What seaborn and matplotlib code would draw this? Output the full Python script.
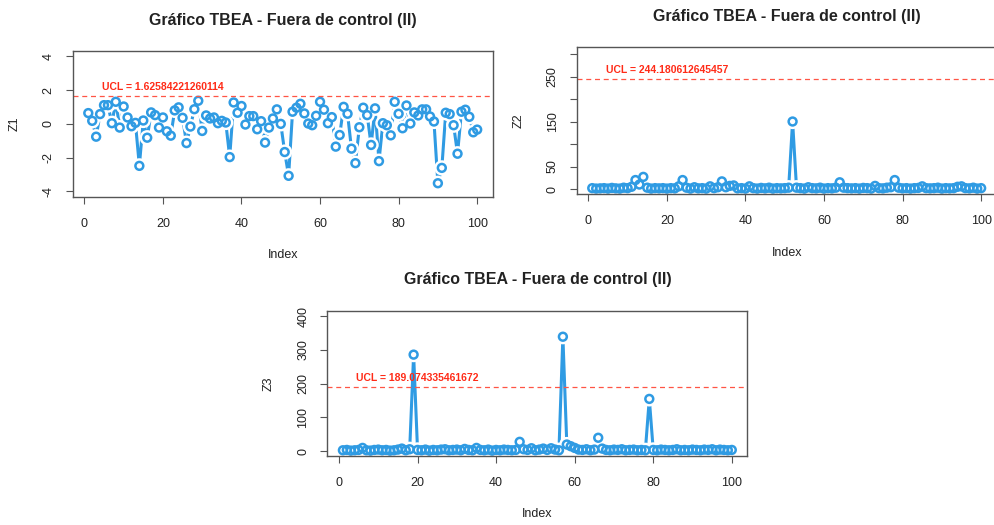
import numpy as np
import pandas as pd
import matplotlib
matplotlib.use('Agg')
import matplotlib.pyplot as plt
import seaborn as sns

sns.set_theme(style="white")
plt.rcParams['font.family'] = ['Liberation Sans', 'DejaVu Sans']

title = 'Gráfico TBEA - Fuera de control (II)'
index = np.arange(1, 101)

z1 = [0.64, 0.18, -0.76, 0.58, 1.11, 1.11, 0.04, 1.31, -0.22, 1.03,
      0.38, -0.14, 0.06, -2.49, 0.20, -0.82, 0.68, 0.52, -0.22, 0.38,
      -0.44, -0.70, 0.80, 0.98, 0.36, -1.14, -0.16, 0.87, 1.37, -0.42,
      0.50, 0.32, 0.38, 0.04, 0.18, 0.08, -1.97, 1.27, 0.66, 1.06,
      -0.04, 0.46, 0.46, -0.32, 0.16, -1.11, -0.22, 0.32, 0.86, 0.00,
      -1.67, -3.08, 0.72, 0.96, 1.19, 0.62, 0.02, -0.08, 0.48, 1.31,
      0.84, 0.04, 0.40, -1.35, -0.66, 1.01, 0.60, -1.47, -2.33, -0.20,
      0.96, 0.52, -1.25, 0.92, -2.21, 0.04, -0.08, -0.68, 1.31, 0.60,
      -0.26, 1.09, 0.02, 0.68, 0.50, 0.86, 0.86, 0.44, 0.14, -3.52,
      -2.61, 0.66, 0.58, -0.08, -1.77, 0.72, 0.84, 0.42, -0.50, -0.34]

z2 = [2, 1, 1.5, 2, 1, 2.5, 1.5, 1, 3, 2,
      5, 20, 10, 27, 3, 1, 2, 1.5, 2, 1,
      2, 1.5, 6, 20, 3, 1, 4, 1.5, 2, 1,
      6, 2, 4, 17, 4, 7, 8, 1.5, 2, 1,
      6, 2, 1, 2.5, 1.5, 3, 1, 2, 1.5, 2,
      3, 150, 3, 2, 1, 4, 2, 1.5, 3, 1,
      2, 1.5, 3, 15, 3, 2, 1.5, 2, 1, 2.5,
      2, 1, 7, 2, 1.5, 3, 4, 20, 3, 1.5,
      2, 1, 2, 2.5, 6, 2, 1.5, 2, 3, 1,
      2, 1.5, 2, 5, 6, 2, 1.5, 3, 1, 2]

z3 = [3, 4, 2, 3, 4, 10, 3, 2, 4, 5,
      3, 4, 2, 3, 5, 8, 3, 6, 286, 4,
      3, 5, 2, 4, 3, 5, 6, 3, 4, 5,
      3, 7, 4, 3, 10, 4, 3, 5, 2, 4,
      3, 5, 4, 3, 4, 28, 6, 4, 9, 3,
      5, 8, 4, 9, 5, 3, 339, 20, 15, 10,
      5, 4, 6, 3, 5, 40, 8, 4, 3, 5,
      4, 6, 3, 4, 5, 3, 4, 3, 155, 4,
      3, 5, 4, 3, 4, 6, 3, 4, 3, 5,
      4, 3, 5, 4, 6, 3, 5, 4, 3, 4]

ucl = [1.62584221260114, 244.180612645457, 189.074335461672]
ylabels = ['Z1', 'Z2', 'Z3']
yticks = [[-4, -2, 0, 2, 4], [0, 50, 100, 150, 200, 250, 300], [0, 100, 200, 300, 400]]
ytick_labels = [['-4', '-2', '0', '2', '4'],
                ['0', '50', '', '150', '', '250', ''],
                ['0', '100', '200', '300', '400']]
ylims = [(-4.32, 4.32), (-11, 315), (-14, 416)]

blue = '#2f9be3'
red = '#ff5545'
axcol = '#555555'

fig = plt.figure(figsize=(9.95, 5.25), dpi=100)
positions = [[0.0731, 0.6253, 0.4221, 0.2775],
             [0.5796, 0.6305, 0.4221, 0.2795],
             [0.3290, 0.1314, 0.4221, 0.2768]]

for k, z in enumerate([z1, z2, z3]):
    ax = fig.add_axes(positions[k])
    d = pd.DataFrame({'Index': index, 'z': z})
    sns.lineplot(data=d, x='Index', y='z', ax=ax, color=blue, lw=2.2, zorder=2.0)
    # R type="b": erase line near each point, then draw open circles
    ax.scatter(d['Index'], d['z'], s=120, color='white', edgecolors='none', zorder=2.2)
    ax.scatter(d['Index'], d['z'], s=32, facecolors='none', edgecolors=blue,
               linewidths=1.8, zorder=3)
    ax.axhline(ucl[k], color=red, lw=0.9, ls=(0, (4, 3)), zorder=3.5)
    ax.annotate(f'UCL = {ucl[k]:.15g}', xy=(20, ucl[k]), xytext=(0, 3),
                textcoords='offset points', ha='center', va='bottom',
                color='#ff2b17', fontsize=7.5, fontweight='bold')

    ax.set_xlim(-2.96, 103.96)
    ax.set_ylim(*ylims[k])
    ax.set_xticks([0, 20, 40, 60, 80, 100])
    ax.set_yticks(yticks[k])
    ax.set_yticklabels(ytick_labels[k], rotation=90, va='center')
    ax.tick_params(axis='both', direction='out', length=5, width=0.8, color=axcol,
                   labelsize=9, labelcolor='#222222', bottom=True, left=True)
    ax.tick_params(axis='x', pad=10)
    ax.tick_params(axis='y', pad=8)
    for s in ax.spines.values():
        s.set_color(axcol)
        s.set_linewidth(1.0)
        s.set_zorder(4)
    ax.set_xlabel('Index', fontsize=9, color='#222222')
    ax.set_ylabel(ylabels[k], fontsize=9, color='#222222')
    ax.xaxis.set_label_coords(0.5, -0.36)
    ax.yaxis.set_label_coords(-0.125, 0.5)
    ax.set_title(title, fontsize=11.5, fontweight='bold', color='#222222', pad=19)
    ax.grid(False)

plt.savefig('out.png', dpi=100, facecolor='white')
plt.close()
